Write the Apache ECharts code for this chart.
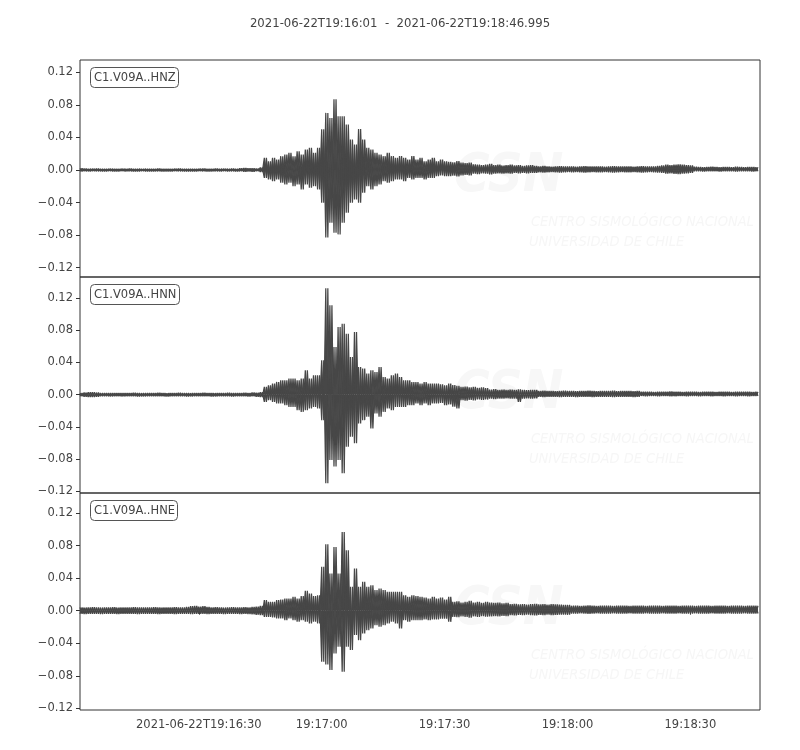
<!DOCTYPE html>
<html>
<head>
    <meta charset="utf-8">
    <script src="https://cdn.jsdelivr.net/npm/echarts@6/dist/echarts.min.js"></script>
    <style>
        html, body { margin: 0; padding: 0; background: #fff; }
        #main { width: 800px; height: 750px; }
    </style>
</head>
<body>
<div id="main"></div>
<script type="text/javascript">
    // --- data ---
    var plotTitle = '2021-06-22T19:16:01  -  2021-06-22T19:18:46.995';
    var channels = ['C1.V09A..HNZ', 'C1.V09A..HNN', 'C1.V09A..HNE'];
    var duration = 165.995;           // seconds after 19:16:01
    var xTicks = [29, 59, 89, 119, 149];
    var xTickLabels = ['2021-06-22T19:16:30', '19:17:00', '19:17:30', '19:18:00', '19:18:30'];
    var yTicks = [-0.12, -0.08, -0.04, 0, 0.04, 0.08, 0.12];
    var yRanges = [[-0.1315, 0.1352], [-0.122, 0.146], [-0.122, 0.1445]];

    // per-second peak (top) and trough (bottom) of each trace, t = 0..165 s
    var hnzTop = [
        0.0020,0.0018,0.0015,0.0015,0.0018,0.0015,0.0012,0.0015,0.0015,0.0012,
        0.0015,0.0015,0.0018,0.0015,0.0015,0.0012,0.0015,0.0015,0.0015,0.0018,
        0.0015,0.0015,0.0012,0.0015,0.0018,0.0015,0.0015,0.0015,0.0012,0.0015,
        0.0018,0.0015,0.0015,0.0018,0.0015,0.0015,0.0015,0.0018,0.0015,0.0020,
        0.0025,0.0022,0.0020,0.0018,0.0030,
        0.0149,0.0108,0.0149,0.0129,0.0170,0.0190,0.0211,0.0170,0.0231,0.0190,
        0.0252,0.0272,0.0211,0.0272,0.0500,0.0702,0.0640,0.0870,0.0661,0.0661,
        0.0558,0.0374,0.0313,0.0505,0.0374,0.0272,0.0252,0.0211,0.0190,0.0170,
        0.0211,0.0170,0.0149,0.0170,0.0149,0.0129,0.0170,0.0129,0.0149,0.0108,
        0.0129,0.0149,0.0108,0.0129,0.0108,
        0.0100,0.0095,0.0110,0.0090,0.0085,0.0090,
        0.0070,0.0065,0.0060,0.0067,0.0075,0.0060,0.0065,0.0055,0.0060,0.0067,
        0.0055,0.0060,0.0050,0.0055,0.0060,0.0050,
        0.0045,0.0050,0.0045,0.0040,0.0045,0.0048,0.0045,0.0042,0.0045,0.0040,
        0.0045,0.0048,0.0045,0.0042,0.0045,0.0045,0.0040,0.0045,0.0048,0.0045,
        0.0042,0.0045,0.0045,0.0040,0.0045,0.0048,0.0045,0.0042,0.0045,0.0050,0.0055,
        0.0065,0.0060,0.0067,0.0070,0.0065,0.0060,0.0055,
        0.0040,0.0037,0.0035,0.0037,0.0040,0.0037,0.0035,0.0037,0.0037,0.0035,
        0.0040,0.0037,0.0035,0.0037,0.0037,0.0035
    ];
    var hnzBottom = [
        -0.0018,-0.0015,-0.0015,-0.0012,-0.0015,-0.0015,-0.0015,-0.0012,-0.0015,-0.0015,
        -0.0012,-0.0015,-0.0015,-0.0018,-0.0015,-0.0012,-0.0015,-0.0015,-0.0015,-0.0015,
        -0.0018,-0.0015,-0.0015,-0.0012,-0.0015,-0.0015,-0.0018,-0.0015,-0.0015,-0.0012,
        -0.0015,-0.0018,-0.0015,-0.0015,-0.0015,-0.0012,-0.0015,-0.0015,-0.0018,-0.0015,
        -0.0020,-0.0018,-0.0020,-0.0015,-0.0025,
        -0.0096,-0.0117,-0.0137,-0.0117,-0.0157,-0.0178,-0.0157,-0.0198,-0.0178,-0.0239,
        -0.0178,-0.0219,-0.0198,-0.0239,-0.0403,-0.0830,-0.0648,-0.0771,-0.0791,-0.0648,
        -0.0526,-0.0403,-0.0362,-0.0403,-0.0280,-0.0198,-0.0239,-0.0198,-0.0178,-0.0137,
        -0.0157,-0.0137,-0.0117,-0.0117,-0.0137,-0.0096,-0.0117,-0.0096,-0.0096,-0.0117,
        -0.0096,-0.0096,-0.0075,-0.0067,-0.0075,
        -0.0076,-0.0070,-0.0080,-0.0065,-0.0060,-0.0065,
        -0.0045,-0.0050,-0.0040,-0.0045,-0.0055,-0.0045,-0.0040,-0.0045,-0.0040,-0.0045,
        -0.0035,-0.0040,-0.0035,-0.0040,-0.0035,-0.0035,
        -0.0027,-0.0030,-0.0027,-0.0025,-0.0027,-0.0030,-0.0027,-0.0025,-0.0027,-0.0025,
        -0.0027,-0.0030,-0.0027,-0.0025,-0.0027,-0.0027,-0.0025,-0.0027,-0.0030,-0.0027,
        -0.0025,-0.0027,-0.0027,-0.0025,-0.0027,-0.0030,-0.0027,-0.0025,-0.0027,-0.0030,-0.0035,
        -0.0045,-0.0040,-0.0047,-0.0050,-0.0045,-0.0040,-0.0035,
        -0.0016,-0.0015,-0.0018,-0.0016,-0.0015,-0.0016,-0.0018,-0.0015,-0.0016,-0.0015,
        -0.0018,-0.0016,-0.0015,-0.0016,-0.0018,-0.0015
    ];
    var hnnTop = [
        0.0020,0.0025,0.0030,0.0030,0.0025,0.0020,0.0020,0.0018,0.0020,0.0020,
        0.0018,0.0020,0.0020,0.0022,0.0020,0.0018,0.0020,0.0020,0.0020,0.0022,
        0.0020,0.0018,0.0020,0.0020,0.0022,0.0020,0.0020,0.0018,0.0020,0.0020,
        0.0022,0.0020,0.0020,0.0018,0.0020,0.0020,0.0022,0.0020,0.0020,0.0020,
        0.0022,0.0020,0.0025,0.0022,0.0030,
        0.0097,0.0117,0.0138,0.0158,0.0179,0.0179,0.0200,0.0200,0.0179,0.0200,
        0.0303,0.0200,0.0241,0.0241,0.0426,0.1320,0.1108,0.0590,0.0840,0.0880,
        0.0757,0.0466,0.0778,0.0344,0.0323,0.0261,0.0303,0.0282,0.0344,0.0220,
        0.0200,0.0241,0.0261,0.0220,0.0179,0.0179,0.0158,0.0158,0.0138,0.0158,
        0.0138,0.0138,0.0138,0.0130,0.0117,
        0.0138,0.0120,0.0110,
        0.0096,0.0100,0.0090,0.0096,0.0085,0.0090,0.0080,
        0.0064,0.0070,0.0060,0.0064,0.0058,0.0064,0.0060,0.0066,0.0060,0.0055,0.0060,0.0058,
        0.0047,0.0050,0.0045,0.0047,0.0044,0.0047,0.0050,0.0045,0.0047,0.0044,
        0.0047,0.0045,0.0050,0.0047,0.0044,0.0047,0.0045,0.0047,0.0050,0.0044,
        0.0047,0.0045,0.0047,0.0044,0.0045,
        0.0035,0.0037,0.0035,0.0033,0.0035,0.0037,0.0035,0.0040,0.0037,0.0035,
        0.0033,0.0035,0.0037,0.0035,0.0033,0.0035,0.0037,0.0035,0.0033,0.0035,
        0.0037,0.0035,0.0033,0.0035,0.0035,0.0037,0.0035,0.0033,0.0035
    ];
    var hnnBottom = [
        -0.0020,-0.0025,-0.0030,-0.0028,-0.0025,-0.0020,-0.0018,-0.0020,-0.0020,-0.0018,
        -0.0020,-0.0020,-0.0018,-0.0020,-0.0022,-0.0020,-0.0020,-0.0018,-0.0020,-0.0020,
        -0.0020,-0.0022,-0.0020,-0.0018,-0.0020,-0.0020,-0.0022,-0.0020,-0.0018,-0.0020,
        -0.0020,-0.0020,-0.0022,-0.0020,-0.0018,-0.0020,-0.0020,-0.0022,-0.0020,-0.0020,
        -0.0020,-0.0022,-0.0020,-0.0025,-0.0030,
        -0.0089,-0.0068,-0.0089,-0.0110,-0.0110,-0.0130,-0.0151,-0.0151,-0.0192,-0.0213,
        -0.0192,-0.0171,-0.0151,-0.0171,-0.0316,-0.1100,-0.0810,-0.0892,-0.0810,-0.0975,
        -0.0646,-0.0522,-0.0604,-0.0357,-0.0316,-0.0275,-0.0419,-0.0233,-0.0274,-0.0213,
        -0.0171,-0.0192,-0.0151,-0.0151,-0.0151,-0.0130,-0.0130,-0.0110,-0.0130,-0.0110,
        -0.0130,-0.0110,-0.0110,-0.0101,-0.0130,
        -0.0120,-0.0150,-0.0170,
        -0.0068,-0.0075,-0.0065,-0.0070,-0.0060,-0.0065,-0.0060,
        -0.0050,-0.0055,-0.0048,-0.0050,-0.0045,-0.0050,-0.0048,-0.0090,-0.0050,-0.0045,-0.0048,-0.0045,
        -0.0027,-0.0030,-0.0027,-0.0025,-0.0027,-0.0030,-0.0027,-0.0025,-0.0027,-0.0030,
        -0.0027,-0.0025,-0.0027,-0.0030,-0.0027,-0.0025,-0.0027,-0.0027,-0.0030,-0.0025,
        -0.0027,-0.0025,-0.0027,-0.0030,-0.0027,
        -0.0015,-0.0018,-0.0015,-0.0015,-0.0018,-0.0015,-0.0015,-0.0020,-0.0018,-0.0015,
        -0.0015,-0.0018,-0.0015,-0.0015,-0.0018,-0.0015,-0.0015,-0.0018,-0.0015,-0.0015,
        -0.0018,-0.0015,-0.0015,-0.0018,-0.0015,-0.0015,-0.0018,-0.0015,-0.0015
    ];
    var hneTop = [
        0.0040,0.0038,0.0040,0.0042,0.0040,0.0038,0.0040,0.0040,0.0042,0.0038,
        0.0040,0.0040,0.0038,0.0042,0.0040,0.0040,0.0038,0.0040,0.0042,0.0040,
        0.0038,0.0040,0.0040,0.0042,0.0040,0.0038,0.0045,0.0055,0.0057,0.0050,
        0.0055,0.0045,0.0040,0.0042,0.0040,0.0038,0.0040,0.0042,0.0040,0.0040,
        0.0042,0.0040,0.0045,0.0050,0.0060,
        0.0129,0.0108,0.0108,0.0129,0.0137,0.0149,0.0149,0.0170,0.0149,0.0178,
        0.0243,0.0209,0.0178,0.0190,0.0538,0.0816,0.0456,0.0782,0.0456,0.0967,
        0.0741,0.0292,0.0517,0.0292,0.0354,0.0292,0.0313,0.0252,0.0272,0.0252,
        0.0231,0.0231,0.0231,0.0231,0.0190,0.0170,0.0190,0.0178,0.0170,0.0162,
        0.0149,0.0170,0.0149,0.0162,0.0137,
        0.0170,
        0.0108,0.0115,0.0100,0.0108,0.0120,0.0100,0.0108,0.0095,0.0108,0.0100,
        0.0095,0.0100,0.0090,0.0095,
        0.0080,0.0085,0.0078,0.0080,0.0075,0.0080,0.0085,0.0078,0.0080,0.0075,
        0.0080,0.0078,0.0075,0.0070,0.0072,
        0.0060,0.0062,0.0058,0.0060,0.0065,0.0060,0.0058,0.0060,0.0062,0.0060,
        0.0058,0.0060,0.0062,0.0060,0.0058,0.0060,0.0060,0.0062,0.0058,0.0060,
        0.0062,0.0060,0.0058,0.0060,0.0060,0.0062,0.0058,0.0060,0.0062,0.0060,
        0.0058,0.0060,0.0060,0.0062,0.0058,0.0060,0.0062,0.0060,0.0058,0.0060,
        0.0062,0.0060,0.0058,0.0060,0.0062,0.0060
    ];
    var hneBottom = [
        -0.0040,-0.0042,-0.0040,-0.0038,-0.0040,-0.0042,-0.0040,-0.0038,-0.0040,-0.0042,
        -0.0040,-0.0038,-0.0040,-0.0040,-0.0042,-0.0040,-0.0038,-0.0040,-0.0040,-0.0042,
        -0.0040,-0.0038,-0.0040,-0.0042,-0.0040,-0.0040,-0.0038,-0.0042,-0.0040,-0.0038,
        -0.0040,-0.0042,-0.0040,-0.0038,-0.0040,-0.0042,-0.0040,-0.0040,-0.0038,-0.0042,
        -0.0040,-0.0042,-0.0045,-0.0050,-0.0055,
        -0.0076,-0.0076,-0.0084,-0.0096,-0.0096,-0.0117,-0.0096,-0.0117,-0.0137,-0.0117,
        -0.0137,-0.0158,-0.0137,-0.0158,-0.0628,-0.0660,-0.0730,-0.0525,-0.0443,-0.0751,
        -0.0443,-0.0484,-0.0300,-0.0362,-0.0280,-0.0239,-0.0219,-0.0178,-0.0198,-0.0178,
        -0.0158,-0.0137,-0.0158,-0.0219,-0.0117,-0.0137,-0.0117,-0.0117,-0.0117,-0.0108,
        -0.0117,-0.0108,-0.0108,-0.0100,-0.0100,
        -0.0137,
        -0.0076,-0.0080,-0.0070,-0.0076,-0.0085,-0.0070,-0.0076,-0.0068,-0.0075,-0.0070,
        -0.0068,-0.0070,-0.0065,-0.0068,
        -0.0055,-0.0058,-0.0052,-0.0055,-0.0050,-0.0055,-0.0058,-0.0052,-0.0055,-0.0050,
        -0.0055,-0.0052,-0.0050,-0.0048,-0.0050,
        -0.0035,-0.0037,-0.0033,-0.0035,-0.0038,-0.0035,-0.0033,-0.0035,-0.0037,-0.0035,
        -0.0033,-0.0035,-0.0037,-0.0035,-0.0033,-0.0035,-0.0035,-0.0037,-0.0033,-0.0035,
        -0.0037,-0.0035,-0.0033,-0.0035,-0.0035,-0.0037,-0.0033,-0.0035,-0.0037,-0.0035,
        -0.0033,-0.0035,-0.0035,-0.0037,-0.0033,-0.0035,-0.0037,-0.0035,-0.0033,-0.0035,
        -0.0037,-0.0035,-0.0033,-0.0035,-0.0037,-0.0035
    ];

    var traces = [[hnzTop, hnzBottom], [hnnTop, hnnBottom], [hneTop, hneBottom]];

    // --- layout ---
    var FONT = '"DejaVu Sans", sans-serif';
    var INK = '#474747';
    var panelTops = [60, 277, 493];
    var panelHeights = [217, 216, 217];

    // each second: peak then trough half a second later (phase 0) and the
    // same pair the other way round (phase 1); together they read as a dense trace
    function wiggle(top, bottom, phase) {
        var pts = [];
        for (var i = 0; i < top.length; i++) {
            pts.push([i, phase ? bottom[i] : top[i]]);
            pts.push([i + 0.5, phase ? top[i] : bottom[i]]);
        }
        return pts;
    }

    function yLabel(v) {
        var s = Math.abs(v).toFixed(2);
        return (v < -1e-9 ? '\u2212' : '') + s;
    }

    var grids = [], xAxes = [], yAxes = [], series = [], titles = [], graphics = [];

    titles.push({
        text: plotTitle,
        left: 'center',
        top: 13,
        textStyle: {fontFamily: FONT, fontSize: 11.7, fontWeight: 'normal', color: '#444'}
    });

    for (var p = 0; p < 3; p++) {
        var last = (p === 2);
        grids.push({
            left: 80, width: 680, top: panelTops[p], height: panelHeights[p],
            show: true, borderColor: '#333', borderWidth: 1, backgroundColor: 'transparent'
        });
        xAxes.push({
            type: 'value', gridIndex: p, min: 0, max: duration,
            axisLine: {show: false},
            splitLine: {show: false},
            axisTick: {show: last, customValues: xTicks, length: 4, lineStyle: {color: '#333'}},
            axisLabel: {
                show: last, customValues: xTicks, margin: 9,
                fontFamily: FONT, fontSize: 11.5, color: '#444',
                formatter: function (v) {
                    var k = xTicks.indexOf(Math.round(v));
                    return k >= 0 ? xTickLabels[k] : '';
                }
            }
        });
        yAxes.push({
            type: 'value', gridIndex: p, min: yRanges[p][0], max: yRanges[p][1],
            axisLine: {show: false},
            splitLine: {show: false},
            axisTick: {show: true, customValues: yTicks, length: 4, lineStyle: {color: '#333'}},
            axisLabel: {
                customValues: yTicks, margin: 7,
                fontFamily: FONT, fontSize: 11.5, color: '#444',
                formatter: yLabel
            }
        });
        for (var ph = 0; ph < 2; ph++) {
            series.push({
                type: 'line', xAxisIndex: p, yAxisIndex: p,
                data: wiggle(traces[p][0], traces[p][1], ph),
                symbol: 'none', sampling: null, smooth: false,
                lineStyle: {color: INK, width: 1.25},
                areaStyle: {color: INK, opacity: 1, origin: 0},
                z: 3
            });
        }
        titles.push({
            text: channels[p],
            left: 90, top: panelTops[p] + 7,
            padding: [4, 3, 3, 4],
            backgroundColor: '#fff',
            borderColor: '#555', borderWidth: 1, borderRadius: 4,
            textStyle: {fontFamily: FONT, fontSize: 11.5, fontWeight: 'normal', color: '#444', lineHeight: 14}
        });

        // faint CSN watermark behind each trace
        var off = panelTops[p] - 60;
        graphics.push({
            type: 'text', left: 454, top: 150 + off, z: 1,
            style: {text: 'CSN', font: 'italic bold 54px "DejaVu Sans Condensed", "DejaVu Sans"', fill: '#f7f7f7'}
        });
        graphics.push({
            type: 'text', left: 531, top: 215 + off, z: 1,
            style: {text: 'CENTRO SISMOLÓGICO NACIONAL', font: 'italic 14.5px "DejaVu Sans Condensed", "DejaVu Sans"', fill: '#f6f6f6'}
        });
        graphics.push({
            type: 'text', left: 529, top: 235 + off, z: 1,
            style: {text: 'UNIVERSIDAD DE CHILE', font: 'italic 14.5px "DejaVu Sans Condensed", "DejaVu Sans"', fill: '#f6f6f6'}
        });
    }

    var myChart = echarts.init(document.getElementById('main'), null, {renderer: 'canvas'});
    var opt = {
        backgroundColor: '#fff',
        animation: false,
        title: titles,
        grid: grids,
        xAxis: xAxes,
        yAxis: yAxes,
        graphic: graphics,
        series: series
    };
    myChart.setOption(opt);
</script>
</body>
</html>
